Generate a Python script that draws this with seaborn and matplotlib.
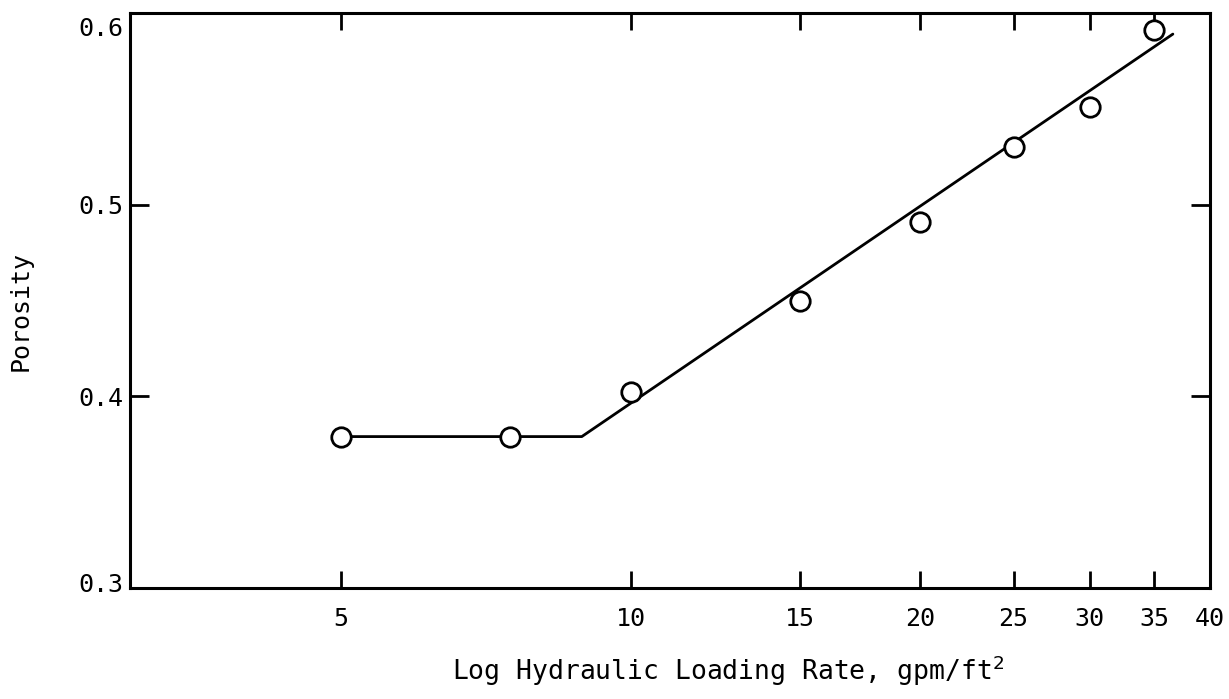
import numpy as np
import pandas as pd
import matplotlib
matplotlib.use("Agg")
import matplotlib.pyplot as plt
import seaborn as sns
from matplotlib.ticker import FixedLocator, NullLocator, NullFormatter
from matplotlib.transforms import ScaledTranslation

# ---- data ----
loading_rate = [5, 7.5, 10, 15, 20, 25, 30, 35]
porosity = [0.379, 0.379, 0.402, 0.450, 0.491, 0.530, 0.551, 0.591]

fit_x = [5, 8.9, 36.6]
fit_y = [0.379, 0.379, 0.589]

x_ticks = [5, 10, 15, 20, 25, 30, 35, 40]
x_ticklabels = ["5", "10", "15", "20", "25", "30", "35", "40"]
y_ticks = [0.3, 0.4, 0.5, 0.6]
y_ticklabels = ["0.3", "0.4", "0.5", "0.6"]

sns.set_style("ticks")
plt.rcParams['font.family'] = ['DejaVu Sans Mono', 'DejaVu Sans']

fig = plt.figure(figsize=(12.29, 6.99), dpi=100)
ax = fig.add_axes([130/1229, 1-588/699, (1210-130)/1229, (588-13)/699])

df_pts = pd.DataFrame({"x": loading_rate, "y": porosity})
df_fit = pd.DataFrame({"x": fit_x, "y": fit_y})

sns.lineplot(data=df_fit, x="x", y="y", ax=ax, color="black", linewidth=2.0,
             estimator=None, sort=False, zorder=2)
ax.plot(df_pts["x"], df_pts["y"], linestyle="none", marker="o", markersize=14,
        markerfacecolor="white", markeredgecolor="black", markeredgewidth=2.0, zorder=3)

ax.set_xscale("log")
ax.set_xlim(3.02, 40)
ax.set_ylim(0.3, 0.6)

ax.xaxis.set_major_locator(FixedLocator(x_ticks))
ax.set_xticklabels(x_ticklabels)
ax.xaxis.set_minor_locator(NullLocator())
ax.xaxis.set_minor_formatter(NullFormatter())
ax.set_yticks(y_ticks)
ax.set_yticklabels(y_ticklabels)

for s in ax.spines.values():
    s.set_linewidth(2.2)
    s.set_color("black")
    s.set_visible(True)

ax.tick_params(axis="x", which="major", direction="in", length=12, width=2,
               top=True, bottom=True, labelsize=18, pad=14, colors="black")
ax.tick_params(axis="y", which="major", direction="in", length=14, width=2,
               left=True, right=True, labelsize=18, pad=5, colors="black")

# shift the top / bottom y labels slightly as in the original
for lab in ax.get_yticklabels():
    if lab.get_text() == "0.6":
        lab.set_transform(lab.get_transform() + ScaledTranslation(0, -10/72, fig.dpi_scale_trans))
    if lab.get_text() == "0.3":
        lab.set_transform(lab.get_transform() + ScaledTranslation(0, 4/72, fig.dpi_scale_trans))

ax.set_xlabel("Log Hydraulic Loading Rate, gpm/ft$^2$", fontsize=19, color="black")
ax.xaxis.set_label_coords(0.554, -0.114)
ax.set_ylabel("Porosity", fontsize=18, color="black")
ax.yaxis.set_label_coords(-0.09, 0.482)

fig.savefig("out.png", dpi=100, facecolor="white")
